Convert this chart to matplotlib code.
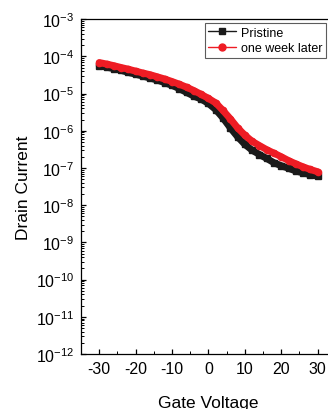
import numpy as np
import matplotlib.pyplot as plt
from matplotlib.ticker import LogLocator, NullFormatter, MultipleLocator

plt.rcParams['font.family'] = ['Liberation Sans', 'DejaVu Sans']
plt.rcParams['mathtext.fontset'] = 'custom'
plt.rcParams['mathtext.rm'] = 'Liberation Sans'
plt.rcParams['mathtext.default'] = 'regular'

# tensão de porta (V)
gate_voltage = [-30, -28, -26, -24, -22, -20, -18, -16, -14, -12, -10, -8, -6, -4, -2,
                0, 2, 4, 6, 8, 10, 12, 14, 16, 18, 20, 22, 24, 26, 28, 30]

# corrente de dreno (A)
pristine = [5.6e-5, 5.1e-5, 4.7e-5, 4.2e-5, 3.7e-5, 3.3e-5, 2.95e-5, 2.6e-5, 2.3e-5, 1.95e-5,
            1.66e-5, 1.35e-5, 1.07e-5, 8.5e-6, 7.1e-6, 5.4e-6, 3.7e-6, 2.2e-6, 1.2e-6, 6.9e-7,
            4.3e-7, 3.0e-7, 2.3e-7, 1.8e-7, 1.38e-7, 1.15e-7, 9.8e-8, 8.3e-8, 7.4e-8, 6.6e-8, 6.0e-8]
week_later = [6.8e-5, 6.2e-5, 5.6e-5, 5.0e-5, 4.5e-5, 4.0e-5, 3.55e-5, 3.2e-5, 2.8e-5, 2.45e-5,
              2.1e-5, 1.78e-5, 1.48e-5, 1.2e-5, 9.5e-6, 7.4e-6, 5.6e-6, 3.5e-6, 2.1e-6, 1.2e-6,
              7.6e-7, 5.2e-7, 4.0e-7, 3.1e-7, 2.5e-7, 2.0e-7, 1.58e-7, 1.29e-7, 1.07e-7, 9.1e-8, 7.9e-8]

x_ticks = [-30, -20, -10, 0, 10, 20, 30]
y_exps = list(range(-12, -2))

fig = plt.figure(figsize=(3.28, 4.10), dpi=100)
ax = fig.add_axes([0.247, 0.134, 0.777, 0.817])

ax.plot(gate_voltage, pristine, color='#1a1a1a', marker='s', markersize=4.5, linewidth=5,
        solid_capstyle='round', solid_joinstyle='round', label='Pristine')
ax.plot(gate_voltage, week_later, color='#ee1c24', marker='o', markersize=4.5, linewidth=5,
        solid_capstyle='round', solid_joinstyle='round', label='one week later')

ax.set_yscale('log')
ax.set_ylim(1e-12, 1e-3)
ax.set_xlim(-35, 35)
ax.set_xticks(x_ticks)
ax.set_xticklabels([str(v) for v in x_ticks])
ax.xaxis.set_minor_locator(MultipleLocator(5))
ax.set_yticks([10.0**e for e in y_exps])
ax.set_yticklabels([f'$10^{{{e}}}$' for e in y_exps])
ax.yaxis.set_minor_locator(LogLocator(base=10, subs=np.arange(2, 10), numticks=20))
ax.yaxis.set_minor_formatter(NullFormatter())

ax.tick_params(which='both', direction='in', top=False, right=False, labelsize=11.5, color='black')
ax.tick_params(which='major', length=3.5, width=0.9, pad=5)
ax.tick_params(which='minor', length=2, width=0.7)
for s in ax.spines.values():
    s.set_linewidth(0.9)

ax.set_xlabel('Gate Voltage', fontsize=12.5, labelpad=14)
ax.set_ylabel('Drain Current', fontsize=12.5, labelpad=3)

leg = ax.legend(loc='upper right', bbox_to_anchor=(326 / 328, 1 - 24 / 410),
                bbox_transform=fig.transFigure, fontsize=9, frameon=True, fancybox=False,
                handlelength=2.2, handletextpad=0.4, borderpad=0.3, labelspacing=0.25,
                borderaxespad=0)
leg.get_frame().set_edgecolor('#333333')
leg.get_frame().set_linewidth(0.8)
for ln in leg.get_lines():
    ln.set_linewidth(1.0)
    ln.set_markersize(5)

plt.savefig('out.png', dpi=100)
